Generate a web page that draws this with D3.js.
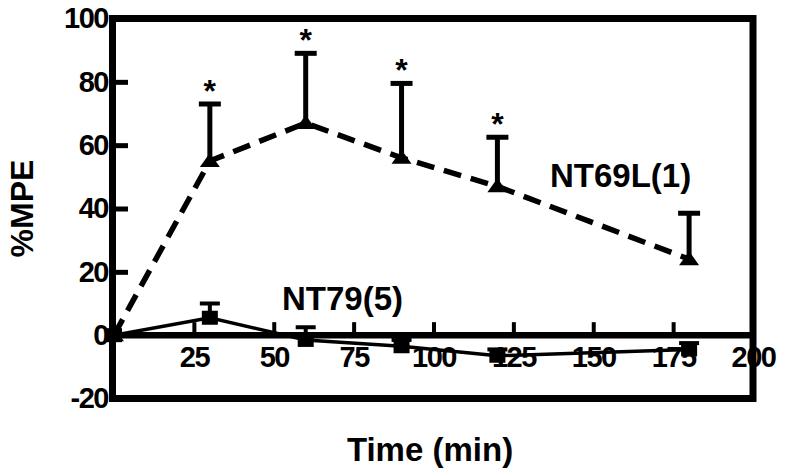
<!DOCTYPE html>
<html>
<head>
<meta charset="utf-8">
<script src="https://cdn.jsdelivr.net/npm/d3@7"></script>
<style>
  body { margin: 0; background: #fff; }
  text { font-family: "Liberation Sans", Arial, sans-serif; font-weight: bold; }
</style>
</head>
<body>
<svg id="chart"></svg>
<script>
const width = 788;
const height = 476;

// data
const times = [0, 30, 60, 90, 120, 180];
const nt69lMean = [0, 55, 67, 56, 47, 24];
const nt69lErr = [0, 18, 22, 23.5, 15.5, 14.5];
const nt69lSig = [false, true, true, true, true, false];
const nt79Mean = [0, 5.5, -1.5, -3.5, -6.5, -4.5];
const nt79Err = [0, 4.5, 4, 2, 2, 2];
const xTicks = [25, 50, 75, 100, 125, 150, 175, 200];
const yTicks = [100, 80, 60, 40, 20, 0, -20];

const svg = d3.select("#chart")
    .attr("width", width)
    .attr("height", height);

const x = d3.scaleLinear().domain([0, 200]).range([114, 753]);
const y = d3.scaleLinear().domain([-20, 100]).range([398.5, 18.5]);

// frame
svg.append("rect")
    .attr("x", x(0) - 1.5)
    .attr("y", y(100))
    .attr("width", x(200) - x(0) + 1.5)
    .attr("height", y(-20) - y(100))
    .attr("fill", "none")
    .attr("stroke", "#000")
    .attr("stroke-width", 7);

// y axis: inward ticks
const yAxis = svg.append("g")
    .attr("transform", `translate(${x(0)},0)`)
    .call(d3.axisLeft(y).tickValues(yTicks).tickSize(-14).tickPadding(6)
        .tickFormat(d => String(d)));
yAxis.select(".domain").remove();
yAxis.selectAll(".tick line")
    .attr("stroke", "#000")
    .attr("stroke-width", 5)
    .attr("display", d => (d === 100 || d === 0 || d === -20) ? "none" : null);
yAxis.selectAll(".tick text")
    .attr("font-size", 29)
    .attr("fill", "#000")
    .attr("letter-spacing", -1.5);

// x axis at zero, ticks pointing up
const xAxis = svg.append("g")
    .attr("transform", `translate(0,${y(0)})`)
    .call(d3.axisBottom(x).tickValues(xTicks).tickSize(-13).tickPadding(11));
xAxis.select(".domain").remove();
xAxis.selectAll(".tick line")
    .attr("stroke", "#000")
    .attr("stroke-width", 4)
    .attr("display", d => d === 200 ? "none" : null);
xAxis.selectAll(".tick text")
    .attr("font-size", 29)
    .attr("fill", "#000")
    .attr("letter-spacing", -1.5);

svg.append("line")
    .attr("x1", x(0)).attr("x2", x(200))
    .attr("y1", y(0)).attr("y2", y(0))
    .attr("stroke", "#000")
    .attr("stroke-width", 6.5);

// axis titles
svg.append("text")
    .attr("transform", `translate(33,${y(40)}) rotate(-90)`)
    .attr("text-anchor", "middle")
    .attr("font-size", 32)
    .text("%MPE");

svg.append("text")
    .attr("x", 430)
    .attr("y", 461)
    .attr("text-anchor", "middle")
    .attr("font-size", 33)
    .text("Time (min)");

const nt79 = times.map((t, i) => ({t, m: nt79Mean[i], e: nt79Err[i]}));
const nt69l = times.map((t, i) => ({t, m: nt69lMean[i], e: nt69lErr[i], s: nt69lSig[i]}));

const line = d3.line().x(d => x(d.t)).y(d => y(d.m));

// NT79 - solid line, squares
svg.append("path")
    .datum(nt79)
    .attr("d", line)
    .attr("fill", "none")
    .attr("stroke", "#000")
    .attr("stroke-width", 3.5);

const e79 = svg.append("g").selectAll("g")
    .data(nt79.filter(d => d.e > 0))
    .enter().append("g");
e79.append("line")
    .attr("x1", d => x(d.t)).attr("x2", d => x(d.t))
    .attr("y1", d => y(d.m)).attr("y2", d => y(d.m + d.e))
    .attr("stroke", "#000").attr("stroke-width", 4);
e79.append("line")
    .attr("x1", d => x(d.t) - 10).attr("x2", d => x(d.t) + 10)
    .attr("y1", d => y(d.m + d.e)).attr("y2", d => y(d.m + d.e))
    .attr("stroke", "#000").attr("stroke-width", 4);

svg.append("g").selectAll("rect")
    .data(nt79)
    .enter().append("rect")
    .attr("x", d => x(d.t) - 8)
    .attr("y", d => y(d.m) - 7)
    .attr("width", 16)
    .attr("height", 14)
    .attr("fill", "#000");

// NT69L - dashed line, triangles
svg.append("path")
    .datum(nt69l)
    .attr("d", line)
    .attr("fill", "none")
    .attr("stroke", "#000")
    .attr("stroke-width", 5.5)
    .attr("stroke-dasharray", "18,10");

const e69 = svg.append("g").selectAll("g")
    .data(nt69l.filter(d => d.e > 0))
    .enter().append("g");
e69.append("line")
    .attr("x1", d => x(d.t)).attr("x2", d => x(d.t))
    .attr("y1", d => y(d.m)).attr("y2", d => y(d.m + d.e))
    .attr("stroke", "#000").attr("stroke-width", 5);
e69.append("line")
    .attr("x1", d => x(d.t) - 11).attr("x2", d => x(d.t) + 11)
    .attr("y1", d => y(d.m + d.e)).attr("y2", d => y(d.m + d.e))
    .attr("stroke", "#000").attr("stroke-width", 5);

svg.append("g").selectAll("path")
    .data(nt69l)
    .enter().append("path")
    .attr("d", d => {
        const cx = x(d.t), cy = y(d.m);
        return `M${cx - 10},${cy + 6}L${cx + 10},${cy + 6}L${cx},${cy - 8}Z`;
    })
    .attr("fill", "#000");

// significance marks
svg.append("g").selectAll("text")
    .data(nt69l.filter(d => d.s))
    .enter().append("text")
    .attr("x", d => x(d.t))
    .attr("y", d => y(d.m + d.e) - 2)
    .attr("text-anchor", "middle")
    .attr("font-size", 32)
    .attr("font-weight", "normal")
    .attr("font-family", "'DejaVu Sans', sans-serif")
    .text("*");

// series labels
svg.append("text")
    .attr("x", 550).attr("y", 187)
    .attr("font-size", 33)
    .text("NT69L(1)");

svg.append("text")
    .attr("x", 282).attr("y", 310)
    .attr("font-size", 33)
    .text("NT79(5)");
</script>
</body>
</html>
